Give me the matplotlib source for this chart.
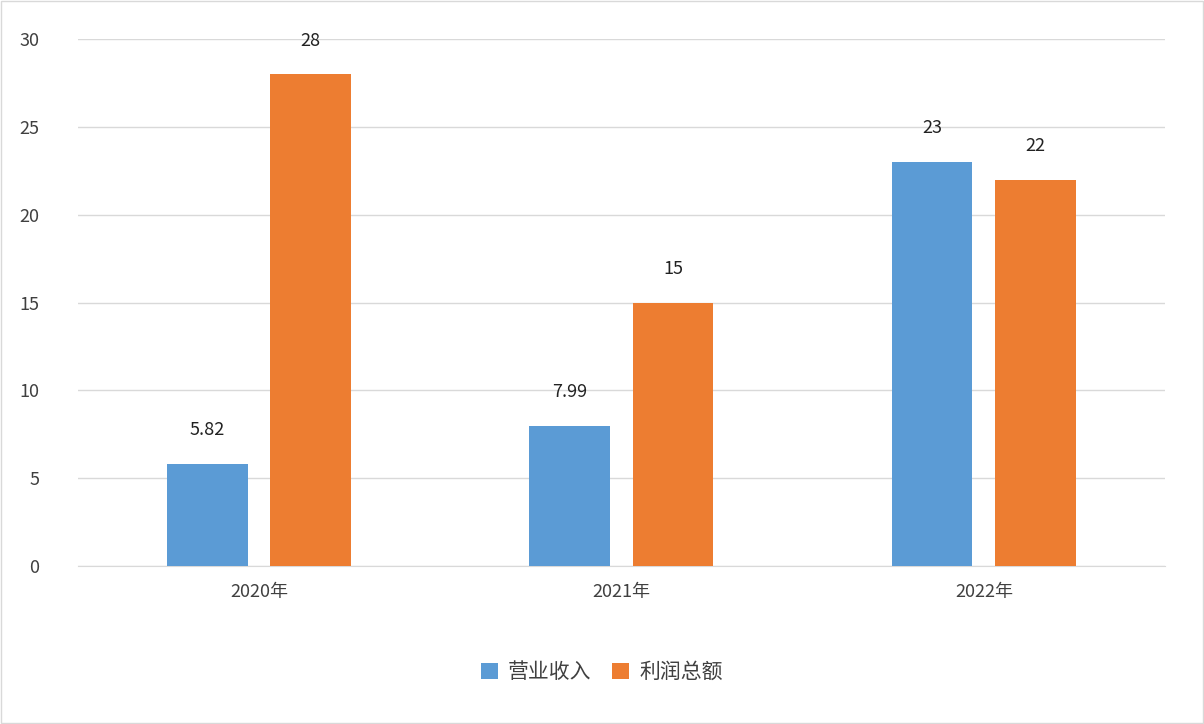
import matplotlib.pyplot as plt
import numpy as np

plt.rcParams["font.family"] = ["Noto Sans CJK SC", "DejaVu Sans"]

years = ["2020年", "2021年", "2022年"]
revenue = [5.82, 7.99, 23]
profit = [28, 15, 22]
revenue_labels = ["5.82", "7.99", "23"]
profit_labels = ["28", "15", "22"]

fig = plt.figure(figsize=(12.04, 7.24), dpi=100)
ax = fig.add_axes([0.0648, 0.2182, 0.9028, 0.7279])

x = np.arange(len(years))
w = 0.223
b1 = ax.bar(x - 0.143, revenue, w, color="#5B9BD5", label="营业收入", zorder=3)
b2 = ax.bar(x + 0.142, profit, w, color="#ED7D31", label="利润总额", zorder=3)

for bars, labs in ((b1, revenue_labels), (b2, profit_labels)):
    for bar, lab in zip(bars, labs):
        ax.text(bar.get_x() + bar.get_width() / 2, bar.get_height() + 1.4, lab,
                ha="center", va="bottom", fontsize=13, color="#222222")

ax.set_xlim(-0.5, 2.5)
ax.set_ylim(0, 30)
ax.set_yticks(range(0, 31, 5))
ax.set_xticks(x)
ax.set_xticklabels(years)
ax.grid(axis="y", color="#D9D9D9", linewidth=1, zorder=0)
for s in ax.spines.values():
    s.set_visible(False)
ax.spines["bottom"].set_visible(True)
ax.spines["bottom"].set_color("#D9D9D9")
ax.tick_params(axis="both", length=0, labelsize=13, colors="#404040")
ax.tick_params(axis="x", pad=12)
ax.tick_params(axis="y", pad=28)

fig.legend(handles=[b1, b2], loc="center", bbox_to_anchor=(0.5, 0.072), ncol=2,
           frameon=False, fontsize=15, handlelength=0.8, handleheight=0.8,
           columnspacing=1.0, handletextpad=0.5, labelcolor="#404040")

fig.patches.append(plt.Rectangle((0.001, 0.001), 0.998, 0.998, transform=fig.transFigure,
                                 fill=False, edgecolor="#D9D9D9", linewidth=1))
fig.savefig("out.png", dpi=100)
